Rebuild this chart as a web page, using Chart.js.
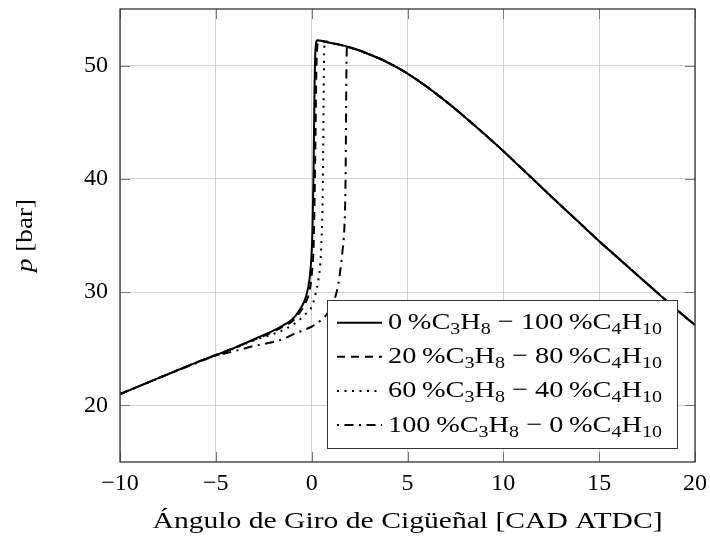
<!DOCTYPE html>
<html>
<head>
<meta charset="utf-8">
<script src="https://cdn.jsdelivr.net/npm/chart.js@4/dist/chart.umd.min.js"></script>
<style>
  html, body { margin: 0; padding: 0; background: #fff; }
  canvas { display: block; }
</style>
</head>
<body>
<canvas id="chart" width="710" height="542"></canvas>
<script>
// Crank angle [CAD ATDC] and cylinder pressure [bar] for each propane/butane blend
const angle0   = [-10, -8, -6, -5, -4, -3, -2, -1.5, -1, -0.6, -0.3, -0.1, 0, 0.05, 0.1, 0.15, 0.2, 0.3, 0.6, 1, 1.5, 2, 2.5, 3, 3.5, 4, 4.5, 5, 6, 7, 8, 9, 10, 11, 12, 13, 14, 15, 16, 17, 18, 19, 20];
const press0   = [21.0, 22.4, 23.8, 24.45, 25.1, 25.85, 26.6, 27.05, 27.6, 28.5, 29.6, 31.3, 33.5, 36.0, 41.0, 48.0, 51.5, 52.25, 52.15, 52.0, 51.83, 51.6, 51.33, 51.0, 50.65, 50.25, 49.8, 49.3, 48.15, 46.85, 45.45, 43.98, 42.45, 40.85, 39.25, 37.65, 36.08, 34.5, 33.0, 31.5, 30.0, 28.5, 27.1];

const angle20  = [-10, -8, -6, -5, -4, -3, -2, -1.5, -1, -0.6, -0.3, -0.1, 0, 0.1, 0.15, 0.2, 0.25, 0.3, 0.4, 0.6, 1, 1.5, 2, 2.5, 3, 3.5, 4, 4.5, 5, 6, 7, 8, 9, 10, 11, 12, 13, 14, 15, 16, 17, 18, 19, 20];
const press20  = [21.0, 22.4, 23.8, 24.45, 25.1, 25.8, 26.5, 26.95, 27.45, 28.25, 29.1, 30.2, 31.5, 34.0, 38.0, 44.0, 50.0, 51.8, 52.2, 52.15, 52.0, 51.83, 51.6, 51.33, 51.0, 50.65, 50.25, 49.8, 49.3, 48.15, 46.85, 45.45, 43.98, 42.45, 40.85, 39.25, 37.65, 36.08, 34.5, 33.0, 31.5, 30.0, 28.5, 27.1];

const angle60  = [-10, -8, -6, -5, -4, -3, -2, -1.5, -1, -0.6, -0.3, 0, 0.2, 0.35, 0.45, 0.52, 0.57, 0.6, 0.63, 0.66, 0.72, 1, 1.5, 2, 2.5, 3, 3.5, 4, 4.5, 5, 6, 7, 8, 9, 10, 11, 12, 13, 14, 15, 16, 17, 18, 19, 20];
const press60  = [21.0, 22.4, 23.8, 24.4, 25.05, 25.75, 26.3, 26.65, 27.1, 27.6, 28.1, 28.7, 29.8, 31.1, 32.5, 34.9, 38.0, 42.0, 48.0, 51.5, 52.15, 52.0, 51.83, 51.6, 51.33, 51.0, 50.65, 50.25, 49.8, 49.3, 48.15, 46.85, 45.45, 43.98, 42.45, 40.85, 39.25, 37.65, 36.08, 34.5, 33.0, 31.5, 30.0, 28.5, 27.1];

const angle100 = [-10, -8, -6, -5, -4, -3, -2, -1.5, -1, -0.5, 0, 0.5, 0.9, 1.22, 1.4, 1.5, 1.6, 1.7, 1.75, 1.78, 1.8, 1.82, 1.85, 2, 2.5, 3, 3.5, 4, 4.5, 5, 6, 7, 8, 9, 10, 11, 12, 13, 14, 15, 16, 17, 18, 19, 20];
const press100 = [21.0, 22.4, 23.75, 24.4, 24.8, 25.25, 25.6, 25.85, 26.25, 26.6, 26.95, 27.55, 28.3, 29.5, 30.8, 32.0, 33.5, 35.5, 38.0, 42.0, 47.0, 50.5, 51.68, 51.6, 51.33, 51.0, 50.65, 50.25, 49.8, 49.3, 48.15, 46.85, 45.45, 43.98, 42.45, 40.85, 39.25, 37.65, 36.08, 34.5, 33.0, 31.5, 30.0, 28.5, 27.1];

// Blend shares [%] shown in the legend
const propaneShare = [0, 20, 60, 100];
const butaneShare  = [100, 80, 40, 0];

// Axis ticks
const xTicks = [-10, -5, 0, 5, 10, 15, 20];
const yTicks = [20, 30, 40, 50];

const FONT = '"Liberation Serif", "DejaVu Serif", serif';
const FS = 24;
const dashes = [[], [8, 6], [2, 5.5], [9, 5.5, 2, 5.5]];
const legendDashOffset = [0, 0, 0, 14.5];
const angles = [angle0, angle20, angle60, angle100];
const pressures = [press0, press20, press60, press100];

const fmt = v => (v < 0 ? '\u2212' + Math.abs(v) : String(v));

const datasets = angles.map((xs, k) => ({
  label: propaneShare[k] + '% C3H8 - ' + butaneShare[k] + '% C4H10',
  data: xs.map((x, i) => ({ x: x, y: pressures[k][i] })),
  showLine: true,
  borderColor: '#000',
  borderWidth: 2,
  borderDash: dashes[k],
  borderCapStyle: 'butt',
  borderJoinStyle: 'round',
  pointRadius: 0,
  tension: 0,
  fill: false
}));

// Legend text pieces: normal text and subscripts
function legendPieces(k) {
  const n = FS + 'px ' + FONT, s = Math.round(FS * 0.7) + 'px ' + FONT;
  return [
    { t: propaneShare[k] + '\u2009%C', font: n }, { t: '3', font: s, dy: 5 }, { t: 'H', font: n }, { t: '8', font: s, dy: 5 },
    { t: ' \u2212 ' + butaneShare[k] + '\u2009%C', font: n }, { t: '4', font: s, dy: 5 }, { t: 'H', font: n }, { t: '10', font: s, dy: 5 }
  ];
}

// Draws a run of text pieces stretched horizontally to a given width
function drawRun(ctx, pieces, x, y, width, align) {
  let natural = 0;
  pieces.forEach(p => { ctx.font = p.font; natural += ctx.measureText(p.t).width; });
  const sx = width / natural;
  ctx.save();
  ctx.translate(align === 'center' ? x - width / 2 : x, y);
  ctx.scale(sx, 1);
  ctx.textAlign = 'left';
  let cx = 0;
  pieces.forEach(p => {
    ctx.font = p.font;
    ctx.fillText(p.t, cx, p.dy || 0);
    cx += ctx.measureText(p.t).width;
  });
  ctx.restore();
}

const framePlugin = {
  id: 'frameAndLabels',
  afterDatasetsDraw(chart) {
    const ctx = chart.ctx;
    const a = chart.chartArea;
    const xs = chart.scales.x, ys = chart.scales.y;
    ctx.save();
    // inward tick marks on all four sides
    ctx.strokeStyle = '#7a7a7a';
    ctx.lineWidth = 1;
    const tl = 10;
    xTicks.forEach(v => {
      const px = Math.round(xs.getPixelForValue(v)) + 0.5;
      ctx.beginPath();
      ctx.moveTo(px, a.bottom); ctx.lineTo(px, a.bottom - tl);
      ctx.moveTo(px, a.top); ctx.lineTo(px, a.top + tl);
      ctx.stroke();
    });
    yTicks.forEach(v => {
      const py = Math.round(ys.getPixelForValue(v)) + 0.5;
      ctx.beginPath();
      ctx.moveTo(a.left, py); ctx.lineTo(a.left + tl, py);
      ctx.moveTo(a.right, py); ctx.lineTo(a.right - tl, py);
      ctx.stroke();
    });
    // axis frame
    ctx.strokeStyle = '#333';
    ctx.lineWidth = 1.3;
    ctx.strokeRect(a.left, a.top, a.right - a.left, a.bottom - a.top);
    ctx.restore();
  },
  afterDraw(chart) {
    const ctx = chart.ctx;
    const a = chart.chartArea;
    const n = FS + 'px ' + FONT;
    ctx.save();
    ctx.fillStyle = '#000';
    ctx.textBaseline = 'alphabetic';
    // x axis title
    drawRun(ctx, [{ t: '\u00C1ngulo de Giro de Cig\u00FCe\u00F1al [CAD ATDC]', font: n }],
      (a.left + a.right) / 2, 528, 510, 'center');
    // y axis title: italic p followed by [bar], rotated
    ctx.save();
    ctx.translate(32, (a.top + a.bottom) / 2);
    ctx.rotate(-Math.PI / 2);
    drawRun(ctx, [{ t: 'p', font: 'italic ' + n }, { t: ' [bar]', font: n }], 0, 0, 73, 'center');
    ctx.restore();

    // legend box
    const box = { l: 327.5, t: 300.5, r: 677.5, b: 448.5 };
    ctx.fillStyle = '#fff';
    ctx.fillRect(box.l, box.t, box.r - box.l, box.b - box.t);
    ctx.strokeStyle = '#333';
    ctx.lineWidth = 1;
    ctx.strokeRect(box.l, box.t, box.r - box.l, box.b - box.t);
    const rowY = [322.7, 356.8, 390.9, 425.0];
    chart.data.datasets.forEach((ds, k) => {
      const y = rowY[k];
      ctx.save();
      ctx.strokeStyle = '#000';
      ctx.lineWidth = 2;
      ctx.lineCap = 'butt';
      ctx.setLineDash(ds.borderDash);
      ctx.lineDashOffset = legendDashOffset[k];
      ctx.beginPath();
      ctx.moveTo(337, y); ctx.lineTo(382, y);
      ctx.stroke();
      ctx.restore();
      ctx.fillStyle = '#000';
      drawRun(ctx, legendPieces(k), 388, y + 6.5, 274, 'left');
    });
    ctx.restore();
  }
};

new Chart(document.getElementById('chart'), {
  type: 'scatter',
  data: { datasets: datasets },
  options: {
    responsive: false,
    animation: false,
    devicePixelRatio: 1,
    layout: { padding: { left: 0, right: 15, top: 9, bottom: 0 } },
    plugins: { legend: { display: false }, tooltip: { enabled: false } },
    elements: { line: { cubicInterpolationMode: 'monotone' } },
    scales: {
      x: {
        type: 'linear',
        min: -10, max: 20,
        afterBuildTicks: s => { s.ticks = xTicks.map(v => ({ value: v })); },
        afterFit: s => { s.height = 80; s.paddingLeft = 0; s.paddingRight = 0; },
        border: { display: false },
        grid: { color: '#d2d2d2', lineWidth: 1, drawTicks: false },
        ticks: {
          padding: 7,
          color: '#000',
          font: { family: FONT, size: FS },
          maxRotation: 0,
          callback: v => fmt(v)
        }
      },
      y: {
        type: 'linear',
        min: 15, max: 55,
        afterBuildTicks: s => { s.ticks = yTicks.map(v => ({ value: v })); },
        afterFit: s => { s.width = 120; s.paddingTop = 0; s.paddingBottom = 0; },
        border: { display: false },
        grid: { color: '#d2d2d2', lineWidth: 1, drawTicks: false },
        ticks: {
          padding: 12,
          color: '#000',
          font: { family: FONT, size: FS },
          callback: v => fmt(v)
        }
      }
    }
  },
  plugins: [framePlugin]
});
</script>
</body>
</html>
